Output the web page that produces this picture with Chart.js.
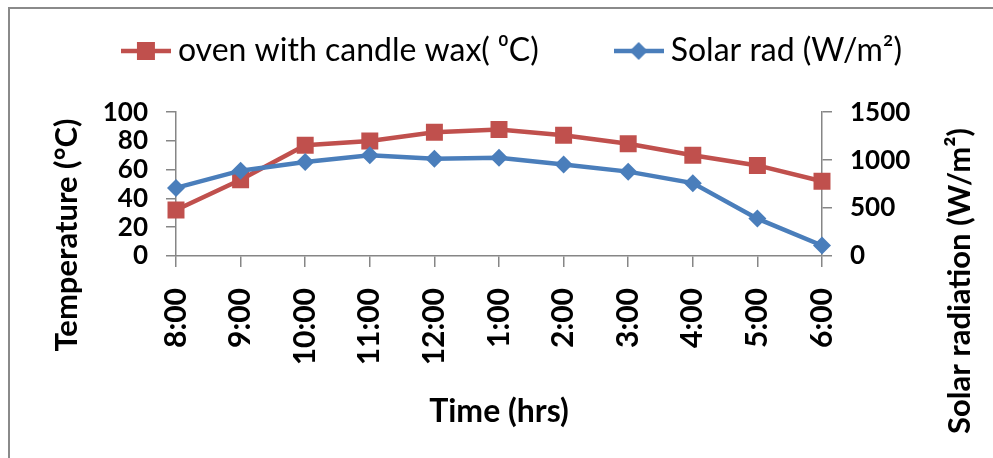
<!DOCTYPE html>
<html>
<head>
<meta charset="utf-8">
<script src="https://cdn.jsdelivr.net/npm/chart.js@4.4.1/dist/chart.umd.min.js"></script>
<style>
    html, body { margin: 0; padding: 0; background: #fff; overflow: hidden; }
    #wrap { position: relative; width: 993px; height: 458px; }
    #frame {
        position: absolute; left: 8px; top: 7px; width: 1100px; height: 600px;
        border-left: 2px solid #8a8a8a; border-top: 2px solid #8a8a8a;
        pointer-events: none;
    }
</style>
</head>
<body>
<div id="wrap">
    <canvas id="grafico" width="993" height="458"></canvas>
    <div id="frame"></div>
</div>
<script>
// ===== dados =====
const horas = ['8:00', '9:00', '10:00', '11:00', '12:00', '1:00', '2:00', '3:00', '4:00', '5:00', '6:00'];
const tempForno = [32, 53, 77, 80, 86, 88, 84, 78, 70, 63, 52];          // °C
const radSolar = [710, 890, 980, 1050, 1015, 1025, 955, 880, 760, 390, 110]; // W/m²

const ticksTemp = [0, 20, 40, 60, 80, 100];
const ticksRad = [0, 500, 1000, 1500];

const nomeForno = 'oven with candle wax( \u2070C)';
const nomeSolar = 'Solar rad (W/m\u00b2)';
const tituloEsq = 'Temperature (\u00b0C)';
const tituloDir = 'Solar radiation (W/m\u00b2)';
const tituloX = 'Time (hrs)';

const VERMELHO = '#C0504D';
const AZUL = '#4A7EBB';
const CINZA = '#868686';

Chart.defaults.color = '#000';
Chart.defaults.font.family = 'Lato, "Open Sans", sans-serif';

// ícone da legenda: linha + marcador
function iconeLegenda(cor, tipo) {
    const c = document.createElement('canvas');
    c.width = 50; c.height = 22;
    const g = c.getContext('2d');
    g.strokeStyle = cor;
    g.lineWidth = 4.5;
    g.beginPath(); g.moveTo(0, 11); g.lineTo(50, 11); g.stroke();
    g.fillStyle = cor;
    if (tipo === 'rect') {
        g.fillRect(16, 2, 18, 18);
    } else {
        g.beginPath();
        g.moveTo(25, 2); g.lineTo(34, 11); g.lineTo(25, 20); g.lineTo(16, 11);
        g.closePath(); g.fill();
    }
    return c;
}

// títulos verticais (lidos de baixo para cima, como no Excel)
const titulosVerticais = {
    id: 'titulosVerticais',
    afterDraw(chart) {
        const ctx = chart.ctx;
        ctx.save();
        ctx.fillStyle = '#000';
        ctx.font = 'bold 31px Lato, "Open Sans", sans-serif';
        ctx.textAlign = 'center';
        ctx.textBaseline = 'middle';
        [[tituloEsq, 67, 235], [tituloDir, 960, 281]].forEach(([txt, x, y]) => {
            ctx.save();
            ctx.translate(x, y);
            ctx.rotate(-Math.PI / 2);
            ctx.fillText(txt, 0, 0);
            ctx.restore();
        });
        ctx.restore();
    }
};

const eixoY = (lado, ticksLista, largura) => ({
    type: 'linear',
    position: lado,
    min: ticksLista[0],
    max: ticksLista[ticksLista.length - 1],
    afterBuildTicks: (s) => { s.ticks = ticksLista.map(v => ({ value: v })); },
    afterFit: (s) => { s.width = largura; },
    border: { display: true, color: CINZA, width: 1.5 },
    grid: { drawOnChartArea: false, drawTicks: true, tickLength: 10, color: CINZA, lineWidth: 1.5 },
    ticks: {
        autoSkip: false, padding: 18, color: '#000',
        font: { size: 26, weight: 'bold' },
        callback: (v) => String(v)
    }
});

const ctx = document.getElementById('grafico').getContext('2d');
const grafico = new Chart(ctx, {
    type: 'line',
    data: {
        labels: horas,
        datasets: [
            {
                label: nomeForno,
                data: tempForno,
                yAxisID: 'yTemp',
                borderColor: VERMELHO,
                backgroundColor: VERMELHO,
                borderWidth: 4.5,
                pointStyle: 'rect',
                pointRadius: 12,
                pointBorderWidth: 0,
                tension: 0,
                order: 1
            },
            {
                label: nomeSolar,
                data: radSolar,
                yAxisID: 'yRad',
                borderColor: AZUL,
                backgroundColor: AZUL,
                borderWidth: 4.5,
                pointStyle: 'rectRot',
                pointRadius: 9,
                pointBorderWidth: 0,
                tension: 0,
                order: 0
            }
        ]
    },
    options: {
        responsive: false,
        animation: false,
        layout: { padding: { top: -49, left: 39, right: 0, bottom: 0 } },
        scales: {
            x: {
                type: 'category',
                offset: false,
                afterFit: (s) => { s.height = 202; },
                border: { display: true, color: CINZA, width: 1.5 },
                grid: { drawOnChartArea: false, drawTicks: true, tickLength: 11, color: CINZA, lineWidth: 1.5 },
                ticks: {
                    minRotation: 90, maxRotation: 90, autoSkip: false, padding: 21,
                    font: { size: 30, weight: 'bold' }, color: '#000'
                },
                title: {
                    display: true, text: tituloX,
                    font: { size: 32, weight: 'bold' }, color: '#000',
                    padding: { top: 0, bottom: 27 }
                }
            },
            yTemp: eixoY('left', ticksTemp, 137),
            yRad: eixoY('right', ticksRad, 171)
        },
        plugins: {
            tooltip: { enabled: false },
            subtitle: { display: true, text: '', position: 'top', weight: 100, font: { size: 1 }, padding: { top: 34, bottom: 0 } },
            legend: {
                position: 'top',
                labels: {
                    usePointStyle: true,
                    pointStyleWidth: 32,
                    padding: 84,
                    font: { size: 32 },
                    color: '#000',
                    generateLabels: () => [
                        { text: nomeForno, pointStyle: iconeLegenda(VERMELHO, 'rect'), fillStyle: VERMELHO, strokeStyle: VERMELHO, lineWidth: 0, datasetIndex: 0 },
                        { text: nomeSolar, pointStyle: iconeLegenda(AZUL, 'rectRot'), fillStyle: AZUL, strokeStyle: AZUL, lineWidth: 0, datasetIndex: 1 }
                    ]
                }
            }
        }
    },
    plugins: [titulosVerticais]
});
</script>
</body>
</html>
